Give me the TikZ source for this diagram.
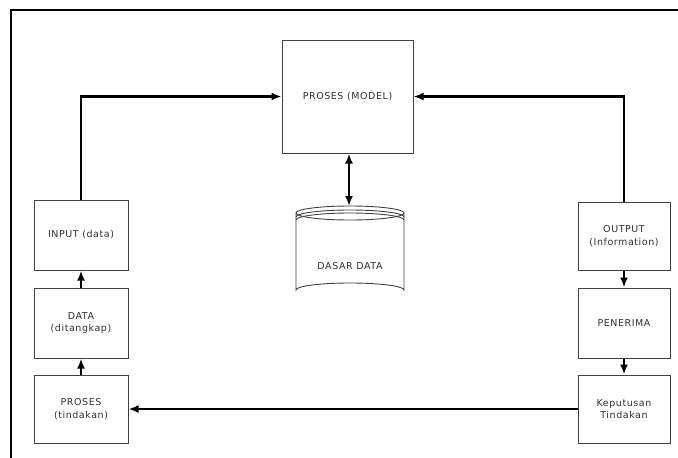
\documentclass[tikz,border=0pt]{standalone}
\usepackage{fontspec}
\setmainfont[LetterSpace=6]{DejaVu Sans}
\usetikzlibrary{arrows.meta}
\begin{document}
\begin{tikzpicture}[x=1pt,y=-1pt,
  label text/.style={font=\fontsize{9.5}{12.5}\selectfont,text=black!82},
  box/.style={draw=black!75,line width=1pt,minimum width=94pt,inner sep=1pt,
    align=center,label text},
  flow/.style={line width=2.2pt,-{Latex[length=10pt,width=8pt]}},
  bothway/.style={line width=2.2pt,{Latex[length=10pt,width=8pt]}-{Latex[length=10pt,width=8pt]}}]
\useasboundingbox (0,0) rectangle (678,458);
% outer frame
\draw[line width=2pt] (11,458) -- (11,10) -- (678,10);

% central process
\node[box,minimum width=131pt,minimum height=113pt] (model) at (347.5,96.5) {PROSES (MODEL)};

% left column
\node[box,minimum height=70pt] (input) at (81,235) {INPUT (data)};
\node[box,minimum height=70pt] (data) at (81,323) {DATA\\(ditangkap)};
\node[box,minimum height=68pt] (act) at (81,409) {PROSES\\(tindakan)};

% right column
\node[box,minimum width=92pt,minimum height=68pt] (output) at (624,236) {OUTPUT\\(Information)};
\node[box,minimum width=92pt,minimum height=70pt] (recv) at (624,323) {PENERIMA};
\node[box,minimum width=92pt,minimum height=68pt] (decide) at (624,409) {Keputusan\\Tindakan};

% database cylinder
\begin{scope}[draw=black!75,line width=0.9pt]
  \draw (350,213) ellipse [x radius=54, y radius=7];
  \draw (296,213) -- (296,290) arc[start angle=180,end angle=360,x radius=54,y radius=7] -- (404,213);
  \draw (296,217) arc[start angle=180,end angle=360,x radius=54,y radius=7];
  \draw (296,220) arc[start angle=180,end angle=360,x radius=54,y radius=7];
\end{scope}
\coordinate (dbtop) at (349,206);
\node[label text] (db) at (350,266) {DASAR DATA};

% connectors
\draw[flow] (input.north) |- (model.west);
\draw[flow] (output.north) |- (model.east);
\draw[bothway] (model.south -| dbtop) -- (dbtop);
\draw[flow] (data.north) -- (input.south);
\draw[flow] (act.north) -- (data.south);
\draw[flow] (output.south) -- (recv.north);
\draw[flow] (recv.south) -- (decide.north);
\draw[flow] (decide.west) -- (act.east);
\end{tikzpicture}
\end{document}
